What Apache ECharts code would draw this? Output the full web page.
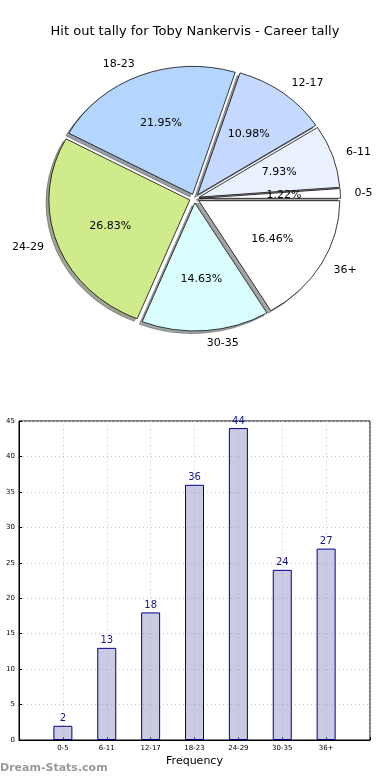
<!DOCTYPE html>
<html>
<head>
<meta charset="utf-8">
<script src="https://cdn.jsdelivr.net/npm/echarts@6/dist/echarts.min.js"></script>
<style>html,body{margin:0;padding:0;background:#fff}#c{width:390px;height:780px}</style>
</head>
<body>
<div id="c"></div>
<script>
const categories = ['0-5', '6-11', '12-17', '18-23', '24-29', '30-35', '36+'];
const values = [2, 13, 18, 36, 44, 24, 27];
const sliceColors = ['#ffffff', '#e9f1fe', '#c5d8fe', '#b4d6fe', '#d0eb8b', '#dafefe', '#ffffff'];
const yTicks = [0, 5, 10, 15, 20, 25, 30, 35, 40, 45];

const FONT = 'DejaVu Sans';
const total = values.reduce((a, b) => a + b, 0);
const PIE = { cx: 194.5, cy: 198.5, rx: 141, ry: 128, explode: 0.035, shadow: 0.02 };

function shade(hex) {
  const n = parseInt(hex.slice(1), 16);
  const r = Math.round(((n >> 16) & 255) * 0.3), g = Math.round(((n >> 8) & 255) * 0.3), b = Math.round((n & 255) * 0.3);
  return 'rgb(' + r + ',' + g + ',' + b + ')';
}

function renderWedge(params, api) {
  const i = params.dataIndex;
  let cum = 0;
  for (let k = 0; k < i; k++) cum += values[k];
  const v = api.value(0);
  const t1 = 2 * Math.PI * cum / total;
  const t2 = t1 + 2 * Math.PI * v / total;
  const mid = (t1 + t2) / 2;
  const c = Math.cos(mid), s = Math.sin(mid);
  const ox = PIE.cx + PIE.explode * PIE.rx * c;
  const oy = PIE.cy - PIE.explode * PIE.ry * s;
  const sy = PIE.ry / PIE.rx;
  const shape = { cx: 0, cy: 0, r0: 0, r: PIE.rx, startAngle: -t1, endAngle: -t2, clockwise: false };
  const sh = shade(sliceColors[i]);
  return {
    type: 'group',
    children: [
      { type: 'sector', x: ox - PIE.shadow * PIE.rx, y: oy + PIE.shadow * PIE.ry, scaleY: sy, z2: 0,
        shape: shape, style: { fill: sh, stroke: sh, lineWidth: 1, strokeNoScale: true, opacity: 0.5 } },
      { type: 'sector', x: ox, y: oy, scaleY: sy, z2: 5,
        shape: shape, style: { fill: sliceColors[i], stroke: '#000', lineWidth: 0.8, strokeNoScale: true } },
      { type: 'text', x: ox + 1.1 * PIE.rx * c, y: oy - 1.1 * PIE.ry * s, z2: 10,
        style: { text: categories[i], fill: '#000', fontSize: 11, fontFamily: FONT,
                 align: c > 0 ? 'left' : 'right', verticalAlign: 'middle' } },
      { type: 'text', x: ox + 0.6 * PIE.rx * c, y: oy - 0.6 * PIE.ry * s, z2: 10,
        style: { text: (100 * v / total).toFixed(2) + '%', fill: '#000', fontSize: 11, fontFamily: FONT,
                 align: 'center', verticalAlign: 'middle' } }
    ]
  };
}

const chart = echarts.init(document.getElementById('c'), null, { renderer: 'canvas' });
chart.setOption({
  animation: false,
  backgroundColor: '#fff',
  textStyle: { fontFamily: FONT },
  title: {
    text: 'Hit out tally for Toby Nankervis - Career tally',
    left: 'center', top: 20,
    textStyle: { fontSize: 13, fontWeight: 'normal', color: '#000', fontFamily: FONT }
  },
  graphic: [
    { type: 'text', left: 0, top: 763, style: { text: 'Dream-Stats.com', fill: '#9a9a9a', fontSize: 11, fontWeight: 'bold', fontFamily: FONT } }
  ],
  grid: { left: 19, right: 20, top: 421, bottom: 40, show: true, borderColor: '#000', borderWidth: 1, containLabel: false },
  xAxis: {
    type: 'value', min: -1, max: 7, interval: 1,
    name: 'Frequency', nameLocation: 'middle', nameGap: 16,
    nameTextStyle: { fontSize: 11, color: '#000', fontFamily: FONT },
    axisLine: { show: true, onZero: false, lineStyle: { color: '#000' } },
    axisTick: { show: true, inside: true, length: 3, lineStyle: { color: '#000' } },
    axisLabel: { fontSize: 7, color: '#000', margin: 5, fontFamily: FONT,
      formatter: v => (v >= 0 && v < categories.length ? categories[v] : '') },
    splitLine: { show: true, lineStyle: { color: '#c8c8c8', type: [1, 3], width: 1 } }
  },
  yAxis: {
    type: 'value', min: yTicks[0], max: yTicks[yTicks.length - 1], interval: yTicks[1] - yTicks[0],
    axisLine: { show: true, onZero: false, lineStyle: { color: '#000' } },
    axisTick: { show: true, inside: true, length: 3, lineStyle: { color: '#000' } },
    axisLabel: { fontSize: 7, color: '#000', margin: 4, fontFamily: FONT },
    splitLine: { show: true, lineStyle: { color: '#c8c8c8', type: [1, 3], width: 1 } }
  },
  series: [
    {
      type: 'custom', coordinateSystem: 'none', silent: true,
      renderItem: renderWedge,
      data: values.map(v => [v])
    },
    {
      type: 'bar',
      barWidth: 19,
      data: values.map((v, i) => [i, v]),
      itemStyle: { color: 'rgba(150,150,200,0.5)', borderColor: '#000090', borderWidth: 1 },
      label: { show: true, position: 'top', distance: 2, color: '#1a1a8c', fontSize: 10, fontFamily: FONT,
               formatter: p => p.value[1] }
    }
  ]
});
</script>
</body>
</html>
